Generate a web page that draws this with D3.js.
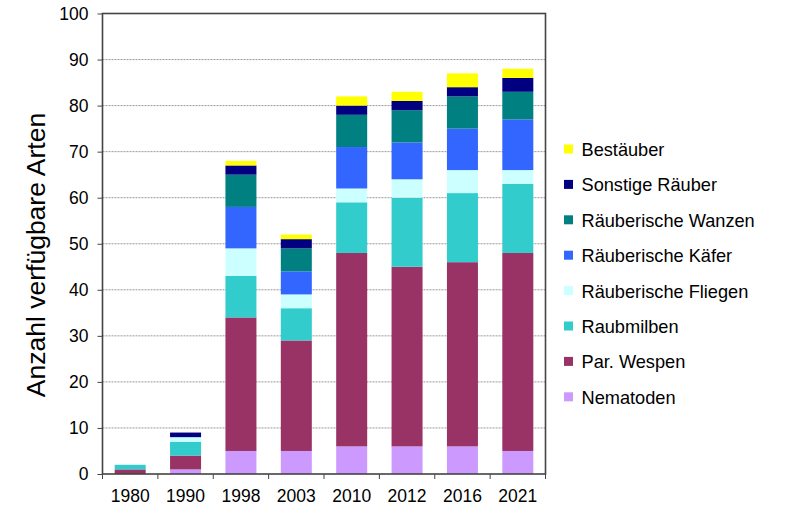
<!DOCTYPE html>
<html>
<head>
<meta charset="utf-8">
<script src="https://cdn.jsdelivr.net/npm/d3@7.9.0/dist/d3.min.js"></script>
<style>
  body { margin: 0; background: #fff; }
  text { font-family: "Liberation Sans", Arial, sans-serif; fill: #000; }
</style>
</head>
<body>
<svg id="chart" width="791" height="506"></svg>
<script>
const years = ["1980", "1990", "1998", "2003", "2010", "2012", "2016", "2021"];
const groups = ["Nematoden", "Par. Wespen", "Raubmilben", "Räuberische Fliegen",
  "Räuberische Käfer", "Räuberische Wanzen", "Sonstige Räuber", "Bestäuber"];
const colors = ["#cc99ff", "#993366", "#33cccc", "#ccffff", "#3366ff", "#008080", "#000080", "#ffff00"];

// values per group, in order of years
const nematoden   = [0, 1, 5, 5, 6, 6, 6, 5];
const wespen      = [1, 3, 29, 24, 42, 39, 40, 43];
const raubmilben  = [1, 3, 9, 7, 11, 15, 15, 15];
const fliegen     = [0, 1, 6, 3, 3, 4, 5, 3];
const kaefer      = [0, 0, 9, 5, 9, 8, 9, 11];
const wanzen      = [0, 0, 7, 5, 7, 7, 7, 6];
const sonstige    = [0, 1, 2, 2, 2, 2, 2, 3];
const bestaeuber  = [0, 0, 1, 1, 2, 2, 3, 2];
const yTicks = [0, 10, 20, 30, 40, 50, 60, 70, 80, 90, 100];

const series = [nematoden, wespen, raubmilben, fliegen, kaefer, wanzen, sonstige, bestaeuber];
const rows = years.map((y, i) => {
  const r = { year: y };
  groups.forEach((g, k) => r[g] = series[k][i]);
  return r;
});

const svg = d3.select("#chart");
const plotL = 102.5, plotR = 545.5, plotT = 13.5, plotB = 474;

const x = d3.scaleBand().domain(years).range([plotL, plotR]).paddingInner(0.44).paddingOuter(0.22);
const y = d3.scaleLinear().domain([0, 100]).range([plotB, plotT]);
const color = d3.scaleOrdinal().domain(groups).range(colors);

// gridlines
svg.append("g")
  .selectAll("line")
  .data(yTicks.slice(1, -1))
  .join("line")
  .attr("x1", plotL).attr("x2", plotR)
  .attr("y1", d => y(d)).attr("y2", d => y(d))
  .attr("stroke", "#999")
  .attr("stroke-width", 1)
  .attr("stroke-dasharray", "2,1");

// stacked bars
const stacked = d3.stack().keys(groups)(rows);
svg.append("g")
  .selectAll("g")
  .data(stacked)
  .join("g")
  .attr("fill", d => color(d.key))
  .selectAll("rect")
  .data(d => d)
  .join("rect")
  .attr("x", d => x(d.data.year))
  .attr("width", x.bandwidth())
  .attr("y", d => y(d[1]))
  .attr("height", d => y(d[0]) - y(d[1]));

// frame
svg.append("rect")
  .attr("x", plotL).attr("y", plotT)
  .attr("width", plotR - plotL).attr("height", plotB - plotT)
  .attr("fill", "none")
  .attr("stroke", "#444")
  .attr("stroke-width", 1.6);

// y axis
const yAxis = svg.append("g")
  .attr("transform", `translate(${plotL},0)`)
  .call(d3.axisLeft(y).tickValues(yTicks).tickSize(5).tickPadding(9));
yAxis.select(".domain").remove();
yAxis.selectAll("line").attr("stroke", "#444");
yAxis.selectAll("text").attr("font-size", 17.5).attr("font-family", "Liberation Sans, Arial, sans-serif").attr("fill", "#000");

// x axis ticks between categories
const xAxis = svg.append("g")
  .attr("transform", `translate(0,${plotB})`);
xAxis.selectAll("line")
  .data(d3.range(years.length + 1))
  .join("line")
  .attr("x1", i => plotL + i * (plotR - plotL) / years.length)
  .attr("x2", i => plotL + i * (plotR - plotL) / years.length)
  .attr("y1", 0).attr("y2", 5)
  .attr("stroke", "#444");
xAxis.selectAll("text")
  .data(years)
  .join("text")
  .attr("x", d => x(d) + x.bandwidth() / 2)
  .attr("y", 27.5)
  .attr("text-anchor", "middle")
  .attr("font-size", 17.5)
  .text(d => d);

// y title
svg.append("text")
  .attr("transform", "translate(45,255) rotate(-90)")
  .attr("text-anchor", "middle")
  .attr("font-size", 26.5)
  .text("Anzahl verfügbare Arten");

// legend
const legendGroups = groups.slice().reverse();
const legend = svg.append("g")
  .selectAll("g")
  .data(legendGroups)
  .join("g")
  .attr("transform", (d, i) => `translate(564,${149 + i * 35.4})`);
legend.append("rect")
  .attr("x", 0).attr("y", -4.5)
  .attr("width", 9).attr("height", 9)
  .attr("fill", d => color(d));
legend.append("text")
  .attr("x", 17.5).attr("y", 7)
  .attr("font-size", 18.2)
  .text(d => d);
</script>
</body>
</html>
